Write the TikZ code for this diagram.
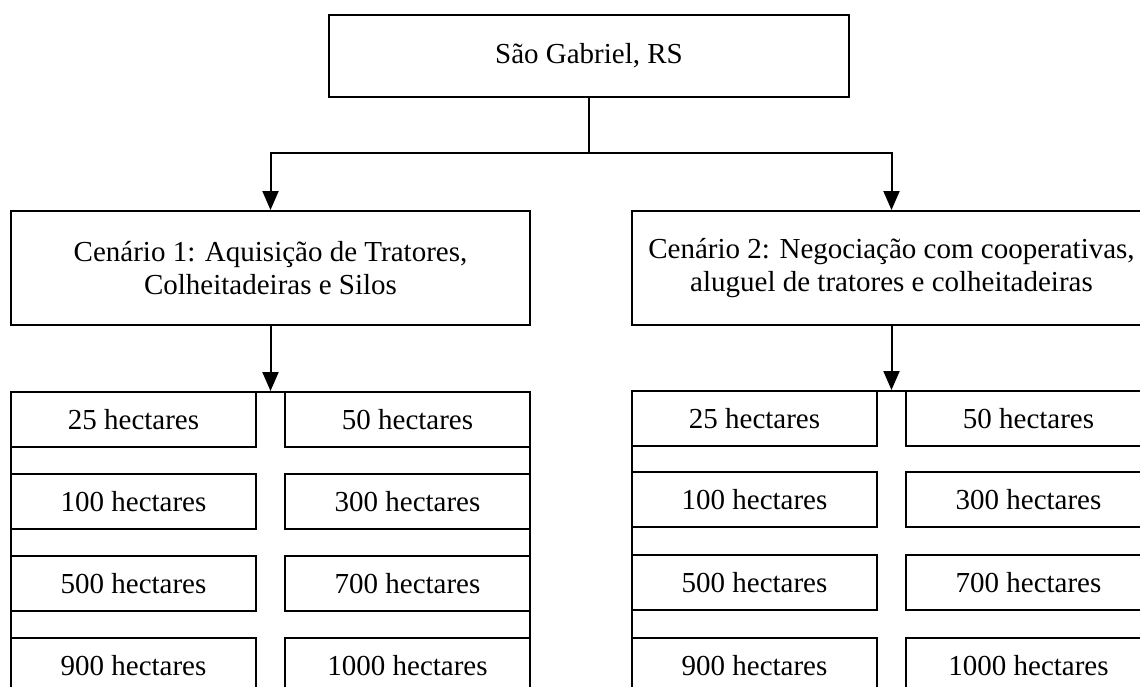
\documentclass[tikz,border=0pt]{standalone}
\usepackage{fontspec}
\setmainfont{Liberation Serif}
\usetikzlibrary{arrows.meta}

\begin{document}
\begin{tikzpicture}[x=1pt,y=-1pt,
  box/.style={draw,line width=2pt,align=center,inner sep=0pt},
  cell/.style={box,minimum width=245pt,minimum height=55pt},
  arr/.style={line width=2pt,-{Triangle[length=19pt,width=16pt]}},
  font=\fontsize{29}{33}\selectfont]
\useasboundingbox (0,0) rectangle (1140,686);
\clip (0,0) rectangle (1140,686);

\node[box,minimum width=520pt,minimum height=82pt] (sg) at (589,56) {São Gabriel, RS};
\node[box,minimum width=519pt,minimum height=114pt] (c1) at (270.5,268) {Cenário 1: Aquisição de Tratores,\\Colheitadeiras e Silos};
\node[box,minimum width=519pt,minimum height=114pt] (c2) at (891.5,268) {Cenário 2: Negociação com cooperativas,\\aluguel de tratores e colheitadeiras};

\coordinate (split) at (589,153);
\draw[line width=2pt] (sg) -- (split);
\draw[arr] (split) -| (c1);
\draw[arr] (split) -| (c2);

\node[box,minimum width=519pt,minimum height=330pt] (g1) at (270.5,557) {};
\node[box,minimum width=519pt,minimum height=330pt] (g2) at (891.5,556) {};
\draw[arr] (c1) -- (g1);
\draw[arr] (c2) -- (g2);

% cenario 1
\node[cell] (a25) at (133.5,419.5) {25 hectares};
\node[cell] (a50) at (407.5,419.5) {50 hectares};
\node[cell] (a100) at (133.5,501.5) {100 hectares};
\node[cell] (a300) at (407.5,501.5) {300 hectares};
\node[cell] (a500) at (133.5,583.5) {500 hectares};
\node[cell] (a700) at (407.5,583.5) {700 hectares};
\node[cell] (a900) at (133.5,665.5) {900 hectares};
\node[cell] (a1000) at (407.5,665.5) {1000 hectares};

% cenario 2
\node[cell] (b25) at (754.5,418.5) {25 hectares};
\node[cell] (b50) at (1028.5,418.5) {50 hectares};
\node[cell] (b100) at (754.5,499.5) {100 hectares};
\node[cell] (b300) at (1028.5,499.5) {300 hectares};
\node[cell] (b500) at (754.5,582.5) {500 hectares};
\node[cell] (b700) at (1028.5,582.5) {700 hectares};
\node[cell] (b900) at (754.5,665.5) {900 hectares};
\node[cell] (b1000) at (1028.5,665.5) {1000 hectares};
\end{tikzpicture}
\end{document}
